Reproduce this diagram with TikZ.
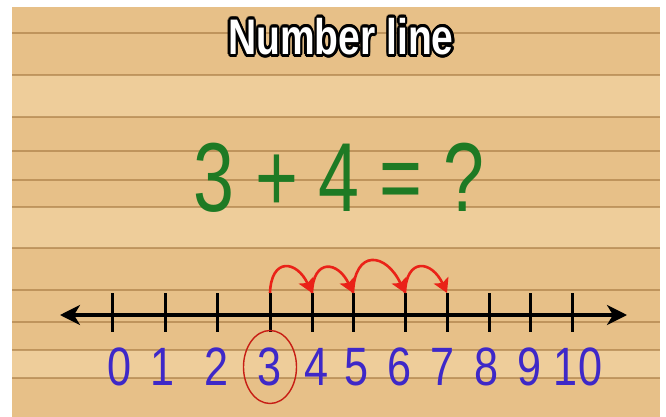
\documentclass[tikz,border=0pt]{standalone}
\usepackage{fontspec}
\setmainfont{Liberation Sans}
\usepackage{contour}
\usetikzlibrary{arrows.meta}

\definecolor{wood}{RGB}{231,192,136}
\definecolor{woodlight}{RGB}{238,205,154}
\definecolor{seam}{RGB}{165,120,64}
\definecolor{sumgreen}{RGB}{30,122,36}
\definecolor{numblue}{RGB}{62,40,200}
\definecolor{hopred}{RGB}{234,34,24}

\contourlength{3pt}

\begin{document}
\begin{tikzpicture}[
  x=1pt, y=1pt,
  board/.style    = {fill=wood, draw=none},
  band/.style     = {fill=woodlight, draw=none},
  seamline/.style = {draw=seam, line width=1.2pt, opacity=0.6},
  title/.style    = {font=\bfseries\fontsize{50}{50}\selectfont, text=white,
                     xscale=0.78, inner sep=0pt},
  sum/.style      = {font=\fontsize{98}{98}\selectfont, text=sumgreen,
                     xscale=0.75, inner sep=0pt},
  axis/.style     = {line width=3.2pt,
                     {Stealth[length=20pt,width=20pt,inset=6pt]}-{Stealth[length=20pt,width=20pt,inset=6pt]}},
  tick/.style     = {line width=3pt},
  num/.style      = {font=\fontsize{54}{54}\selectfont, text=numblue,
                     xscale=0.8, inner sep=0pt},
  hop/.style      = {draw=hopred, line width=2.6pt,
                     -{Stealth[length=14pt,width=16pt,inset=3pt]}},
  ring/.style     = {draw=hopred!85!black, line width=1.4pt},
]
  \useasboundingbox (0,0) rectangle (666,-417);

  % wooden planks
  \fill[board] (12,-7) rectangle (660,-417);
  \fill[band] (12,-75) rectangle (660,-117);
  \fill[band] (12,-207) rectangle (660,-248);
  \fill[band] (12,-350) rectangle (660,-378);
  \foreach \y in {33,75,117,151,180,207,248,290,322,350,378}
    \draw[seamline] (12,-\y) -- (660,-\y);

  \node[title] (title) at (341,-38) {\contour{black}{Number line}};
  \node[sum] (sum) at (339,-178) {3 + 4 = ?};

  % the line itself
  \coordinate (lend) at (60,-315);
  \coordinate (rend) at (627,-315);
  \draw[axis] (lend) -- (rend);

  \foreach \n/\tx/\lx in {0/112/120, 1/165/163, 2/217/217, 3/270/270,
                          4/312/317, 5/353/357, 6/405/400, 7/447/443,
                          8/489/487, 9/530/530, 10/572/578} {
    \coordinate (top\n) at (\tx,-293);
    \coordinate (foot\n) at (\tx,-332);
    \draw[tick] (top\n) -- (foot\n);
    \node[num] (n\n) at (\lx,-367) {\n};
  }

  \draw[ring] (n3) ellipse [x radius=26.5, y radius=36.5];

  \foreach \a/\b in {3/4, 4/5, 5/6, 6/7}
    \draw[hop] (top\a) to[out=88, in=115, looseness=2.2] (top\b);
\end{tikzpicture}
\end{document}
